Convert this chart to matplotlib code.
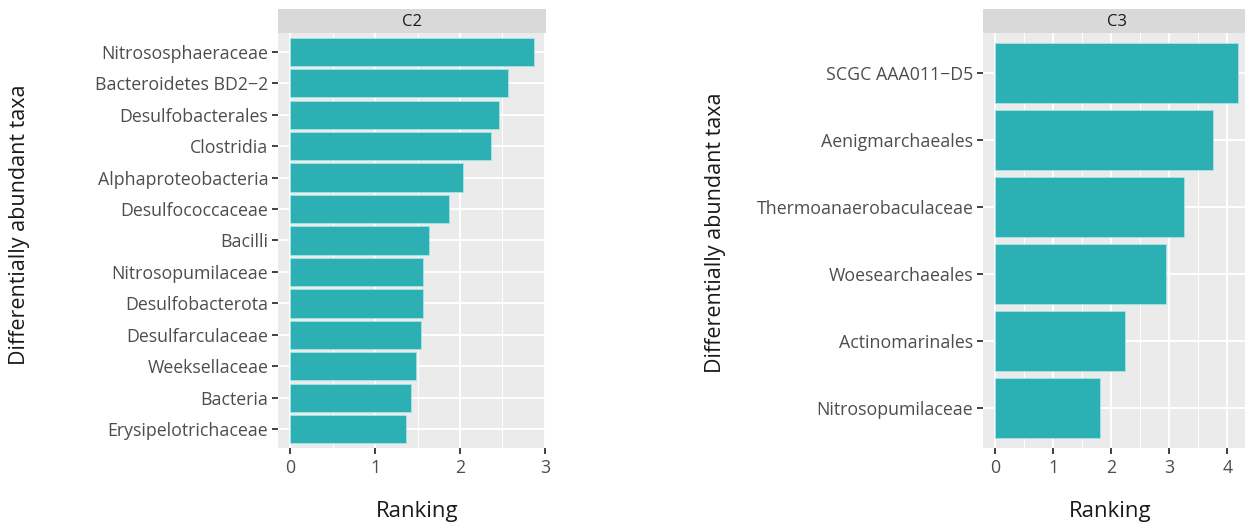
import matplotlib
matplotlib.use("Agg")
import matplotlib.pyplot as plt
import numpy as np

# Differentially abundant taxa, listed top to bottom
c2_taxa = ["Nitrososphaeraceae", "Bacteroidetes BD2\u22122", "Desulfobacterales",
           "Clostridia", "Alphaproteobacteria", "Desulfococcaceae", "Bacilli",
           "Nitrosopumilaceae", "Desulfobacterota", "Desulfarculaceae",
           "Weeksellaceae", "Bacteria", "Erysipelotrichaceae"]
c2_rank = [2.87, 2.56, 2.46, 2.36, 2.03, 1.87, 1.63, 1.57, 1.56, 1.54, 1.48, 1.42, 1.36]
c2_ticks = [0, 1, 2, 3]

c3_taxa = ["SCGC AAA011\u2212D5", "Aenigmarchaeales", "Thermoanaerobaculaceae",
           "Woesearchaeales", "Actinomarinales", "Nitrosopumilaceae"]
c3_rank = [4.18, 3.75, 3.26, 2.94, 2.24, 1.81]
c3_ticks = [0, 1, 2, 3, 4]

FONT = ["Open Sans", "DejaVu Sans"]
BAR = "#2CB0B4"
PANEL = "#EBEBEB"
STRIP = "#D9D9D9"
TICKTXT = "#4D4D4D"

W, H = 1245, 526
fig = plt.figure(figsize=(W / 100, H / 100), dpi=100)
fig.patch.set_facecolor("white")


def px_axes(x0, y0, x1, y1):
    return fig.add_axes([x0 / W, 1 - y1 / H, (x1 - x0) / W, (y1 - y0) / H])


def facet(box, title, taxa, values, ticks, label_x, label_cy, xlabel_cx):
    x0, y0, x1, y1 = box
    ax = px_axes(x0, y0, x1, y1)
    n = len(taxa)
    ypos = np.arange(n)[::-1] + 1
    vmax = max(values)
    ax.set_xlim(-0.05 * vmax, 1.05 * vmax)
    ax.set_ylim(0.4, n + 0.6)
    ax.set_facecolor(PANEL)

    # grid: major white lines, thinner minor lines at half steps
    for t in ticks:
        ax.axvline(t, color="white", lw=1.4, zorder=0)
    for t in np.arange(0.5, vmax * 1.05, 1.0):
        ax.axvline(t, color="white", lw=0.7, zorder=0)
    for y in ypos:
        ax.axhline(y, color="white", lw=1.4, zorder=0)

    ax.barh(ypos, values, height=0.9, color=BAR, edgecolor="#A6E4E6",
            linewidth=0.6, zorder=2)

    ax.set_yticks(ypos)
    ax.set_yticklabels(taxa, family=FONT, fontsize=12.8, color=TICKTXT)
    ax.set_xticks(ticks)
    ax.set_xticklabels([str(t) for t in ticks], family=FONT, fontsize=12.8,
                       color=TICKTXT)
    ax.tick_params(axis="y", length=4, width=1.3, color="#333333", pad=3)
    ax.tick_params(axis="x", length=4, width=1.3, color="#333333", pad=4)
    for s in ax.spines.values():
        s.set_visible(False)

    # facet strip
    sax = px_axes(x0, 9, x1, y0)
    sax.set_facecolor(STRIP)
    sax.set_xticks([])
    sax.set_yticks([])
    for s in sax.spines.values():
        s.set_visible(False)
    sax.text(0.5, 0.45, title, ha="center", va="center", family=FONT,
             fontsize=12, color="#1A1A1A", transform=sax.transAxes)

    fig.text(label_x / W, 1 - label_cy / H, "Differentially abundant taxa",
             rotation=90, ha="center", va="center", family=FONT, fontsize=15.5,
             color="#1A1A1A")
    fig.text(xlabel_cx / W, 1 - 511 / H, "Ranking", ha="center", va="center",
             family=FONT, fontsize=16, color="#1A1A1A")
    return ax


facet((278, 33, 546, 448), "C2", c2_taxa, c2_rank, c2_ticks, 20, 225, 417)
facet((983, 33, 1250, 448), "C3", c3_taxa, c3_rank, c3_ticks, 716, 233, 1110)

fig.savefig("out.png", dpi=100, facecolor="white")
